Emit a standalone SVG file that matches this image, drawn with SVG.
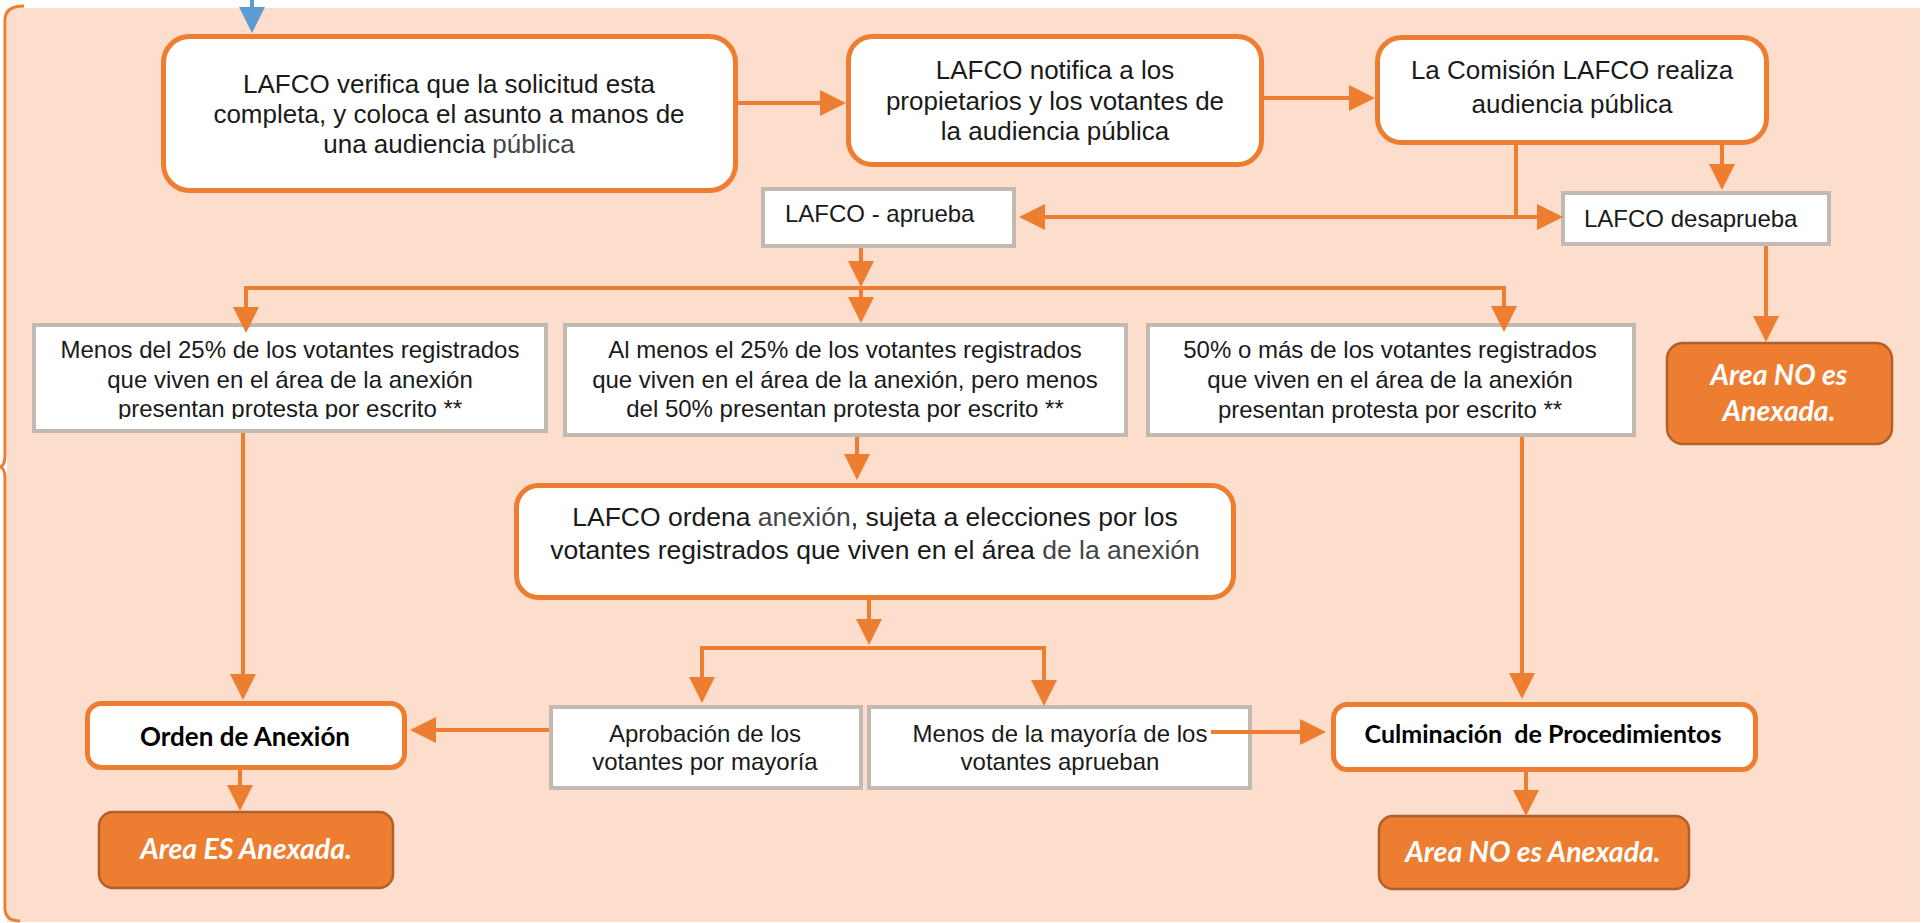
<svg xmlns="http://www.w3.org/2000/svg" width="1923" height="923" viewBox="0 0 1923 923">
<style>
.bg{fill:#FDDDCC}
.rbox{fill:#fff;stroke:#ED7D31;stroke-width:5}
.gbox{fill:#fff;stroke:#C3B9B3;stroke-width:4}
.obox{fill:#ED7D31;stroke:#B0602A;stroke-width:2.5}
.t{font-family:"Liberation Sans",Arial,sans-serif;fill:#1a1a1a;text-anchor:middle}
.g{fill:#454545}
.b{font-family:Lato,"Open Sans",sans-serif;font-weight:bold;fill:#000;text-anchor:middle}
.w{font-family:Lato,"Open Sans",sans-serif;font-weight:bold;font-style:italic;fill:#fff;text-anchor:middle}
.c{fill:none;stroke:#ED7D31;stroke-width:4}
</style>
<defs>
<marker id="ah" markerUnits="userSpaceOnUse" markerWidth="26" markerHeight="26" refX="16" refY="13" orient="auto-start-reverse"><path d="M0,0 L26,13 L0,26 Z" fill="#ED7D31"/></marker>
<marker id="bh" markerUnits="userSpaceOnUse" markerWidth="26" markerHeight="26" refX="16" refY="13" orient="auto"><path d="M0,0 L26,13 L0,26 Z" fill="#5B9BD5"/></marker>
<clipPath id="clip1"><rect x="30" y="320" width="520" height="99"/></clipPath>
</defs>
<rect class="bg" x="7" y="8" width="1913" height="914"/>
<path d="M24,6 Q5,6 5,20 L5,455 Q5,466 0,467 Q5,468 5,479 L5,908 Q5,921 20,921" fill="none" stroke="#ED7D31" stroke-width="3"/>

<g id="n-verifica">
<rect class="rbox" x="163.5" y="36.5" width="572" height="154" rx="26"/>
<text class="t" font-size="26" x="449" y="93">LAFCO verifica que la solicitud esta</text>
<text class="t" font-size="26" x="449" y="123">completa, y coloca el asunto a manos de</text>
<text class="t" font-size="26" x="449" y="153">una audiencia <tspan class="g">pública</tspan></text>
</g>
<g id="n-notifica">
<rect class="rbox" x="848.5" y="36.5" width="413" height="128" rx="24"/>
<text class="t" font-size="26" x="1055" y="79">LAFCO notifica a los</text>
<text class="t" font-size="26" x="1055" y="109.5">propietarios y los votantes de</text>
<text class="t" font-size="26" x="1055" y="140">la audiencia pública</text>
</g>
<g id="n-comision">
<rect class="rbox" x="1377.5" y="37.5" width="389" height="105" rx="24"/>
<text class="t" font-size="26" x="1572" y="79">La Comisión LAFCO realiza</text>
<text class="t" font-size="26" x="1572" y="113">audiencia pública</text>
</g>
<g id="n-aprueba">
<rect class="gbox" x="763" y="189" width="251" height="57"/>
<text class="t" font-size="24" x="785" y="222" style="text-anchor:start">LAFCO - aprueba</text>
</g>
<g id="n-desaprueba">
<rect class="gbox" x="1563" y="193" width="266" height="51"/>
<text class="t" font-size="24" x="1584" y="227" style="text-anchor:start">LAFCO desaprueba</text>
</g>
<g id="n-no1">
<rect class="obox" x="1667" y="343" width="225" height="101" rx="16"/>
<text class="w" font-size="28.5" x="1779" y="385">Area NO es</text>
<text class="w" font-size="28.5" x="1779" y="421">Anexada.</text>
</g>
<g id="n-menos25">
<rect class="gbox" x="34" y="325" width="512" height="106"/>
<g clip-path="url(#clip1)">
<text class="t" font-size="24" x="290" y="358">Menos del 25% de los votantes registrados</text>
<text class="t" font-size="24" x="290" y="388">que viven en el área de la anexión</text>
<text class="t" font-size="24" x="290" y="417">presentan protesta por escrito **</text>
</g>
</g>
<g id="n-almenos">
<rect class="gbox" x="565" y="325" width="561" height="110"/>
<text class="t" font-size="24" x="845" y="358">Al menos el 25% de los votantes registrados</text>
<text class="t" font-size="24" x="845" y="388">que viven en el área de la anexión, pero menos</text>
<text class="t" font-size="24" x="845" y="417">del 50% presentan protesta por escrito **</text>
</g>
<g id="n-50">
<rect class="gbox" x="1148" y="325" width="486" height="110"/>
<text class="t" font-size="24" x="1390" y="358">50% o más de los votantes registrados</text>
<text class="t" font-size="24" x="1390" y="388">que viven en el área de la anexión</text>
<text class="t" font-size="24" x="1390" y="418">presentan protesta por escrito **</text>
</g>
<g id="n-ordena">
<rect class="rbox" x="516.5" y="485.5" width="717" height="112" rx="22"/>
<text class="t" font-size="26.5" x="875" y="526">LAFCO ordena <tspan class="g">anexión</tspan>, sujeta a elecciones por los</text>
<text class="t" font-size="26.5" x="875" y="559">votantes registrados que viven en el área <tspan class="g">de la anexión</tspan></text>
</g>
<g id="n-orden">
<rect class="rbox" x="87.5" y="703.5" width="317" height="64" rx="14"/>
<text class="b" font-size="26" x="245" y="746">Orden de Anexión</text>
</g>
<g id="n-es">
<rect class="obox" x="99" y="812" width="294" height="76" rx="14"/>
<text class="w" font-size="28.5" x="246" y="859">Area ES Anexada.</text>
</g>
<g id="n-aprobacion">
<rect class="gbox" x="551" y="707" width="310" height="81"/>
<text class="t" font-size="24" x="705" y="742">Aprobación de los</text>
<text class="t" font-size="24" x="705" y="770">votantes por mayoría</text>
</g>
<g id="n-menosmayoria">
<rect class="gbox" x="869" y="707" width="381" height="81"/>
<text class="t" font-size="24" x="1060" y="742">Menos de la mayoría de los</text>
<text class="t" font-size="24" x="1060" y="770">votantes aprueban</text>
</g>
<g id="n-culminacion">
<rect class="rbox" x="1333.5" y="704.5" width="422" height="65" rx="14"/>
<text class="b" font-size="25" x="1543" y="743" xml:space="preserve">Culminación  de Procedimientos</text>
</g>
<g id="n-no2">
<rect class="obox" x="1379" y="816" width="310" height="73" rx="14"/>
<text class="w" font-size="28.5" x="1533" y="862">Area NO es Anexada.</text>
</g>

<g id="connectors">
<path d="M252,0 V23" fill="none" stroke="#5B9BD5" stroke-width="4" marker-end="url(#bh)"/>
<path class="c" d="M738,103 H836" marker-end="url(#ah)"/>
<path class="c" d="M1264,98 H1365" marker-end="url(#ah)"/>
<path class="c" d="M1722,145 V180" marker-end="url(#ah)"/>
<path class="c" d="M1516,145 V217"/>
<path class="c" d="M1029,217 H1553" marker-start="url(#ah)" marker-end="url(#ah)"/>
<path class="c" d="M1766,246 V332" marker-end="url(#ah)"/>
<path class="c" d="M861,248 V277" marker-end="url(#ah)"/>
<path class="c" d="M246,323 V288 H1504 V322" marker-start="url(#ah)" marker-end="url(#ah)"/>
<path class="c" d="M861,288 V313" marker-end="url(#ah)"/>
<path class="c" d="M243,433 V690" marker-end="url(#ah)"/>
<path class="c" d="M857,437 V470" marker-end="url(#ah)"/>
<path class="c" d="M869,600 V635" marker-end="url(#ah)"/>
<path class="c" d="M702,693 V648 H1044 V696" marker-start="url(#ah)" marker-end="url(#ah)"/>
<path class="c" d="M549,730 H420" marker-end="url(#ah)"/>
<path class="c" d="M1211,732 H1316" marker-end="url(#ah)"/>
<path class="c" d="M1522,437 V689" marker-end="url(#ah)"/>
<path class="c" d="M240,770 V801" marker-end="url(#ah)"/>
<path class="c" d="M1526,772 V806" marker-end="url(#ah)"/>
</g>
</svg>
